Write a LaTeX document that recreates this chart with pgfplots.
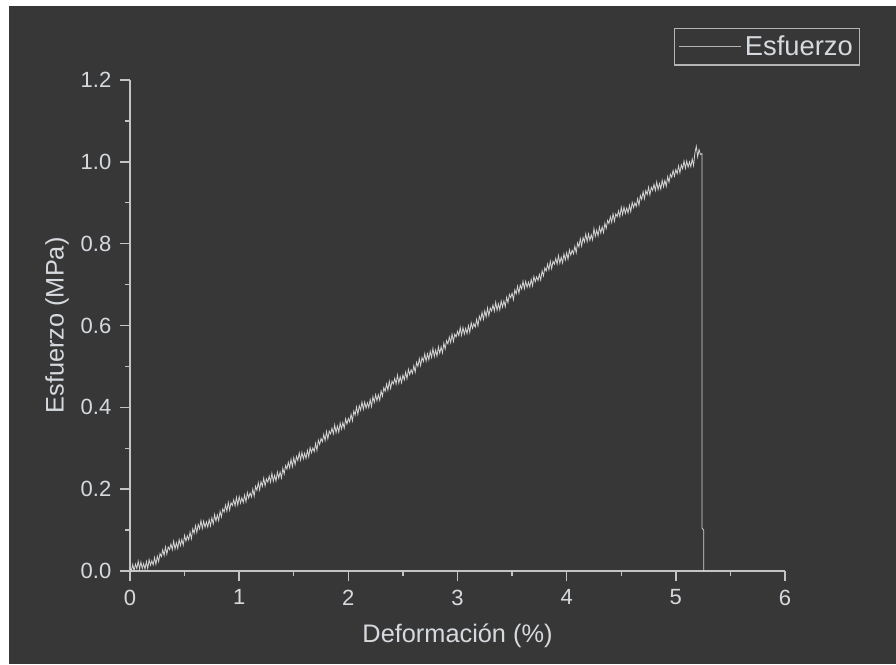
\documentclass[border=0pt]{standalone}
\usepackage{fontspec}
\setmainfont{Liberation Sans}
\usepackage{pgfplots}
\usepackage{pgfplotstable}
\pgfplotsset{compat=1.18}
\definecolor{bgc}{HTML}{373737}
\definecolor{axc}{HTML}{C4C4C4}
\definecolor{txc}{HTML}{D6DADE}
\definecolor{lnc}{HTML}{D4D4D4}
\definecolor{lgc}{HTML}{B4B4B4}
\pgfplotstableread{
x y
0.0000 0.009
0.0125 0.000
0.0250 0.016
0.0375 0.000
0.0500 0.017
0.0625 0.006
0.0750 0.024
0.0875 0.005
0.1000 0.022
0.1125 0.006
0.1250 0.018
0.1375 0.005
0.1500 0.023
0.1625 0.006
0.1750 0.028
0.1875 0.014
0.2000 0.025
0.2125 0.015
0.2250 0.033
0.2375 0.016
0.2500 0.036
0.2625 0.023
0.2750 0.043
0.2875 0.035
0.3000 0.052
0.3125 0.038
0.3250 0.059
0.3375 0.041
0.3500 0.059
0.3625 0.052
0.3750 0.066
0.3875 0.052
0.4000 0.073
0.4125 0.054
0.4250 0.069
0.4375 0.055
0.4500 0.077
0.4625 0.062
0.4750 0.077
0.4875 0.063
0.5000 0.087
0.5125 0.073
0.5250 0.086
0.5375 0.076
0.5500 0.095
0.5625 0.079
0.5750 0.103
0.5875 0.092
0.6000 0.111
0.6125 0.094
0.6250 0.114
0.6375 0.103
0.6500 0.123
0.6625 0.104
0.6750 0.122
0.6875 0.107
0.7000 0.120
0.7125 0.107
0.7250 0.126
0.7375 0.110
0.7500 0.130
0.7625 0.115
0.7750 0.138
0.7875 0.122
0.8000 0.137
0.8125 0.123
0.8250 0.146
0.8375 0.132
0.8500 0.152
0.8625 0.144
0.8750 0.161
0.8875 0.146
0.9000 0.168
0.9125 0.149
0.9250 0.167
0.9375 0.160
0.9500 0.174
0.9625 0.159
0.9750 0.180
0.9875 0.161
1.0000 0.182
1.0125 0.166
1.0250 0.179
1.0375 0.167
1.0500 0.186
1.0625 0.169
1.0750 0.192
1.0875 0.178
1.1000 0.191
1.1125 0.181
1.1250 0.200
1.1375 0.183
1.1500 0.207
1.1625 0.197
1.1750 0.216
1.1875 0.198
1.2000 0.218
1.2125 0.207
1.2250 0.227
1.2375 0.208
1.2500 0.225
1.2625 0.217
1.2750 0.232
1.2875 0.217
1.3000 0.239
1.3125 0.219
1.3250 0.234
1.3375 0.220
1.3500 0.242
1.3625 0.227
1.3750 0.242
1.3875 0.227
1.4000 0.251
1.4125 0.237
1.4250 0.258
1.4375 0.249
1.4500 0.266
1.4625 0.252
1.4750 0.273
1.4875 0.255
1.5000 0.277
1.5125 0.260
1.5250 0.280
1.5375 0.270
1.5500 0.289
1.5625 0.271
1.5750 0.290
1.5875 0.274
1.6000 0.288
1.6125 0.275
1.6250 0.295
1.6375 0.279
1.6500 0.302
1.6625 0.289
1.6750 0.301
1.6875 0.292
1.7000 0.312
1.7125 0.295
1.7250 0.320
1.7375 0.309
1.7500 0.324
1.7625 0.316
1.7750 0.334
1.7875 0.319
1.8000 0.341
1.8125 0.323
1.8250 0.342
1.8375 0.335
1.8500 0.349
1.8625 0.335
1.8750 0.357
1.8875 0.338
1.9000 0.354
1.9125 0.339
1.9250 0.362
1.9375 0.347
1.9500 0.363
1.9625 0.349
1.9750 0.372
1.9875 0.359
2.0000 0.373
2.0125 0.364
2.0250 0.383
2.0375 0.367
2.0500 0.391
2.0625 0.381
2.0750 0.401
2.0875 0.383
2.1000 0.404
2.1125 0.393
2.1250 0.413
2.1375 0.395
2.1500 0.413
2.1625 0.398
2.1750 0.411
2.1875 0.399
2.2000 0.419
2.2125 0.402
2.2250 0.426
2.2375 0.412
2.2500 0.431
2.2625 0.416
2.2750 0.431
2.2875 0.417
2.3000 0.440
2.3125 0.427
2.3250 0.448
2.3375 0.439
2.3500 0.457
2.3625 0.442
2.3750 0.464
2.3875 0.446
2.4000 0.464
2.4125 0.457
2.4250 0.471
2.4375 0.457
2.4500 0.479
2.4625 0.459
2.4750 0.475
2.4875 0.460
2.5000 0.479
2.5125 0.467
2.5250 0.486
2.5375 0.470
2.5500 0.493
2.5625 0.480
2.5750 0.492
2.5875 0.483
2.6000 0.502
2.6125 0.486
2.6250 0.510
2.6375 0.500
2.6500 0.519
2.6625 0.502
2.6750 0.522
2.6875 0.512
2.7000 0.531
2.7125 0.513
2.7250 0.531
2.7375 0.516
2.7500 0.537
2.7625 0.522
2.7750 0.544
2.7875 0.524
2.8000 0.540
2.8125 0.525
2.8250 0.548
2.8375 0.532
2.8500 0.548
2.8625 0.533
2.8750 0.557
2.8875 0.543
2.9000 0.563
2.9125 0.555
2.9250 0.572
2.9375 0.558
2.9500 0.579
2.9625 0.561
2.9750 0.579
2.9875 0.572
3.0000 0.586
3.0125 0.575
3.0250 0.595
3.0375 0.576
3.0500 0.595
3.0625 0.579
3.0750 0.593
3.0875 0.580
3.1000 0.600
3.1125 0.583
3.1250 0.607
3.1375 0.593
3.1500 0.605
3.1625 0.596
3.1750 0.615
3.1875 0.599
3.2000 0.623
3.2125 0.613
3.2250 0.632
3.2375 0.615
3.2500 0.636
3.2625 0.621
3.2750 0.643
3.2875 0.624
3.3000 0.643
3.3125 0.635
3.3250 0.650
3.3375 0.635
3.3500 0.657
3.3625 0.637
3.3750 0.653
3.3875 0.638
3.4000 0.660
3.4125 0.645
3.4250 0.660
3.4375 0.646
3.4500 0.669
3.4625 0.656
3.4750 0.676
3.4875 0.668
3.5000 0.679
3.5125 0.663
3.5250 0.687
3.5375 0.677
3.5500 0.696
3.5625 0.679
3.5750 0.699
3.5875 0.689
3.6000 0.708
3.6125 0.690
3.6250 0.708
3.6375 0.693
3.6500 0.706
3.6625 0.694
3.6750 0.713
3.6875 0.697
3.7000 0.720
3.7125 0.707
3.7250 0.719
3.7375 0.710
3.7500 0.725
3.7625 0.711
3.7750 0.734
3.7875 0.721
3.8000 0.741
3.8125 0.733
3.8250 0.750
3.8375 0.736
3.8500 0.757
3.8625 0.739
3.8750 0.757
3.8875 0.750
3.9000 0.764
3.9125 0.750
3.9250 0.771
3.9375 0.752
3.9500 0.767
3.9625 0.753
3.9750 0.775
3.9875 0.760
4.0000 0.778
4.0125 0.762
4.0250 0.785
4.0375 0.772
4.0500 0.784
4.0625 0.775
4.0750 0.794
4.0875 0.778
4.1000 0.802
4.1125 0.792
4.1250 0.812
4.1375 0.794
4.1500 0.815
4.1625 0.804
4.1750 0.824
4.1875 0.805
4.2000 0.824
4.2125 0.808
4.2250 0.822
4.2375 0.809
4.2500 0.837
4.2625 0.818
4.2750 0.833
4.2875 0.819
4.3000 0.841
4.3125 0.826
4.3250 0.841
4.3375 0.827
4.3500 0.850
4.3625 0.837
4.3750 0.857
4.3875 0.849
4.4000 0.866
4.4125 0.852
4.4250 0.873
4.4375 0.855
4.4500 0.873
4.4625 0.866
4.4750 0.880
4.4875 0.866
4.5000 0.889
4.5125 0.871
4.5250 0.889
4.5375 0.874
4.5500 0.887
4.5625 0.875
4.5750 0.894
4.5875 0.878
4.6000 0.901
4.6125 0.888
4.6250 0.900
4.6375 0.891
4.6500 0.910
4.6625 0.894
4.6750 0.918
4.6875 0.908
4.7000 0.927
4.7125 0.910
4.7250 0.930
4.7375 0.920
4.7500 0.938
4.7625 0.919
4.7750 0.938
4.7875 0.930
4.8000 0.945
4.8125 0.930
4.8250 0.951
4.8375 0.932
4.8500 0.947
4.8625 0.933
4.8750 0.955
4.8875 0.939
4.9000 0.955
4.9125 0.940
4.9250 0.964
4.9375 0.950
4.9500 0.970
4.9625 0.962
4.9750 0.979
4.9875 0.965
5.0000 0.981
5.0125 0.971
5.0250 0.990
5.0375 0.973
5.0500 0.993
5.0625 0.983
5.0750 1.002
5.0875 0.984
5.1000 1.002
5.1125 0.987
5.1250 1.000
5.1375 0.988
5.1500 1.007
5.1625 0.991
5.1750 1.022
5.1875 1.038
5.2000 1.012
5.2125 1.030
5.2250 1.018
5.2400 1.020
5.2400 0.105
5.2550 0.100
5.2550 0.000
}\stressdata
\begin{document}
\begin{tikzpicture}
\fill[white] (0,0) rectangle (672pt,498pt);
\fill[bgc] (6.75pt,0) rectangle (672pt,493.5pt);
\begin{axis}[
  at={(97.5pt,69.75pt)}, anchor=south west,
  scale only axis, width=491.25pt, height=368.25pt,
  xmin=0, xmax=6, ymin=0, ymax=1.2,
  axis x line*=bottom, axis y line*=left,
  axis line style={draw=axc, line width=1.1pt},
  xtick={0,1,2,3,4,5,6},
  ytick={0,0.2,0.4,0.6,0.8,1.0,1.2},
  minor x tick num=1, minor y tick num=1,
  tick align=outside,
  major tick length=7.5pt, minor tick length=3.75pt,
  every tick/.style={draw=axc, line width=1.1pt},
  /pgf/number format/assume math mode=true,
  yticklabel style={/pgf/number format/fixed, /pgf/number format/fixed zerofill, /pgf/number format/precision=1, xshift=-3pt},
  xticklabel style={yshift=-3pt},
  ticklabel style={font=\fontsize{16.5pt}{19pt}\selectfont, text=txc},
  xlabel={Deformación (\%)}, ylabel={Esfuerzo (MPa)},
  label style={font=\fontsize{19pt}{22pt}\selectfont, text=txc},
  xlabel style={at={(axis description cs:0.5,0)}, anchor=center, yshift=-48.75pt},
  ylabel style={at={(axis description cs:0,0.5)}, anchor=center, yshift=54.75pt},
  legend style={at={(axis description cs:1.1145,1.1059)}, anchor=north east,
    draw=lgc, line width=0.8pt, fill=none, text=txc, font=\fontsize{20.5pt}{24pt}\selectfont,
    inner xsep=2.5pt, inner ysep=3pt, nodes={inner sep=2.5pt}},
  legend image code/.code={\draw[lgc, line width=0.8pt] (-1pt,0pt) -- (45.75pt,0pt);},
]
\addplot[lnc, line width=0.6pt] table[x=x, y=y] {\stressdata};
\addlegendentry{Esfuerzo}
\end{axis}
\pgfresetboundingbox
\path[use as bounding box] (0,0) rectangle (672pt,498pt);
\end{tikzpicture}
\end{document}
